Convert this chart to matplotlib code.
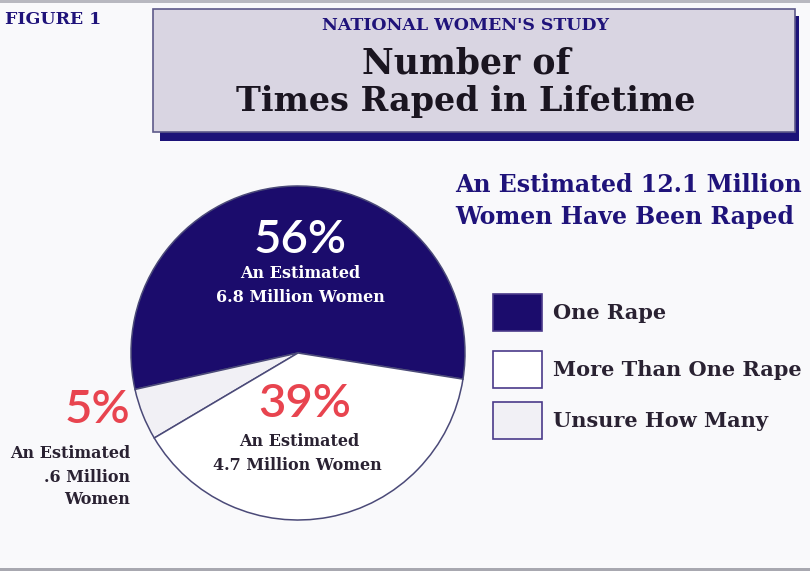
import matplotlib
matplotlib.use('Agg')
import matplotlib.pyplot as plt
from matplotlib.patches import Rectangle

# data
categories = ['One Rape', 'Unsure How Many', 'More Than One Rape']
shares = [56, 5, 39]
millions = ['6.8', '.6', '4.7']
slice_colors = ['#1b0c6c', '#f1f0f5', '#ffffff']
legend_order = ['One Rape', 'More Than One Rape', 'Unsure How Many']
total_millions = '12.1'

navy = '#1f137a'
red = '#e8444f'
ink = '#2a2232'
serif = 'DejaVu Serif'
sans = 'Lato'

W, H = 810, 571
fig = plt.figure(figsize=(W / 100, H / 100), dpi=100)
fig.patch.set_facecolor('#f9f9fb')
ax = fig.add_axes([0, 0, 1, 1])

def Y(y):
    # image rows -> data y (up)
    return H - y

# --- pie ---
col = dict(zip(categories, slice_colors))
ax.pie(shares, colors=slice_colors, startangle=-9.0, counterclock=True,
       center=(298, Y(353)), radius=167,
       wedgeprops=dict(edgecolor='#4b4a78', linewidth=1.1))
ax.set_xlim(0, W)
ax.set_ylim(0, H)
ax.axis('off')

# scan borders
ax.add_patch(Rectangle((0, Y(3)), W, 3, color='#b8b8c0', lw=0))
ax.add_patch(Rectangle((0, Y(571)), W, 3, color='#a8a8b0', lw=0))

# --- title box ---
ax.add_patch(Rectangle((160, Y(141)), 639, 125, color='#1c1278', lw=0, zorder=2))
ax.add_patch(Rectangle((153, Y(132)), 642, 123, facecolor='#d9d5e2',
                       edgecolor='#5e5a8a', lw=1.2, zorder=3))
ax.text(466, Y(26), "NATIONAL WOMEN'S STUDY", color=navy, fontsize=12.5,
        fontweight='bold', family=serif, ha='center', va='center', zorder=4)
ax.text(466, Y(63), 'Number of', color='#1a1520', fontsize=25,
        fontweight='bold', family=serif, ha='center', va='center', zorder=4)
ax.text(466, Y(101), 'Times Raped in Lifetime', color='#1a1520', fontsize=24,
        fontweight='bold', family=serif, ha='center', va='center', zorder=4)
ax.text(5, Y(20), 'FIGURE 1', color=navy, fontsize=12.5, fontweight='bold',
        family=serif, ha='left', va='center')

# --- subtitle ---
ax.text(455, Y(185), f'An Estimated {total_millions} Million', color=navy,
        fontsize=17, fontweight='bold', family=serif, ha='left', va='center')
ax.text(455, Y(217), 'Women Have Been Raped', color=navy,
        fontsize=17, fontweight='bold', family=serif, ha='left', va='center')

# --- legend ---
leg_y = [313, 370, 421]
for name, yy in zip(legend_order, leg_y):
    ax.add_patch(Rectangle((493, Y(yy + 18)), 49, 37, facecolor=col[name],
                           edgecolor='#4a3a8a', lw=1.2))
    ax.text(553, Y(yy), name, color=ink, fontsize=15, fontweight='bold',
            family=serif, ha='left', va='center')

# --- slice labels ---
pct_kw = dict(fontsize=34, fontweight='semibold', family=sans,
              va='center')
lab_kw = dict(fontsize=11.5, fontweight='bold', family=serif, va='center')

ax.text(300, Y(240), f'{shares[0]}%', color='white', ha='center', **pct_kw)
ax.text(300, Y(273), 'An Estimated', color='white', ha='center', **lab_kw)
ax.text(300, Y(298), f'{millions[0]} Million Women', color='white',
        ha='center', **lab_kw)

ax.text(305, Y(404), f'{shares[2]}%', color=red, ha='center', **pct_kw)
ax.text(299, Y(442), 'An Estimated', color=ink, ha='center', **lab_kw)
ax.text(297, Y(465), f'{millions[2]} Million Women', color=ink,
        ha='center', **lab_kw)

ax.text(130, Y(410), f'{shares[1]}%', color=red, ha='right', **pct_kw)
ax.text(130, Y(454), 'An Estimated', color=ink, ha='right', **lab_kw)
ax.text(130, Y(477), f'{millions[1]} Million', color=ink, ha='right', **lab_kw)
ax.text(130, Y(499), 'Women', color=ink, ha='right', **lab_kw)

fig.savefig('out.png', dpi=100, facecolor=fig.get_facecolor())
